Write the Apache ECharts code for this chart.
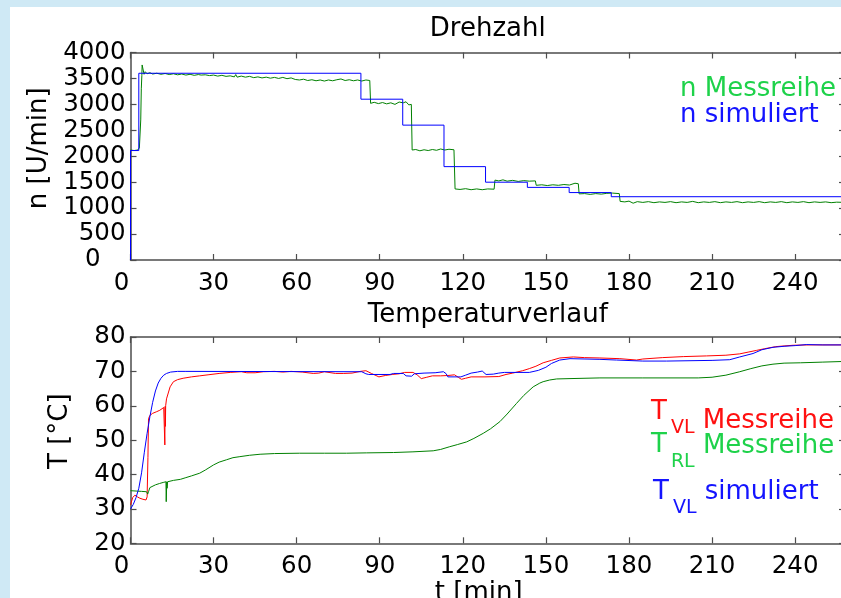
<!DOCTYPE html>
<html><head><meta charset="utf-8">
<script src="https://cdn.jsdelivr.net/npm/echarts@6/dist/echarts.min.js"></script>
<style>
html,body{margin:0;padding:0;width:841px;height:598px;overflow:hidden;background:#cfe9f5;}
#panel{position:absolute;left:10px;top:7px;width:900px;height:700px;background:#ffffff;}
#chart{position:absolute;left:0;top:0;width:860px;height:598px;}
</style></head><body>
<div id="panel"></div><div id="chart"></div>
<script>
// ---- data ----
const tMax = 258;
const xTickStep = 30;
const nTicks = {min: 0, max: 4000, step: 500};
const tempTicks = {min: 20, max: 80, step: 10};

const nSim = [[0,0],[0,2110],[3,2110],[3,3600],[83.2,3600],[83.2,3100],[98.3,3100],[98.3,2600],[113.2,2600],[113.2,1800],[128.2,1800],[128.2,1500],[143.3,1500],[143.3,1400],[158.4,1400],[158.4,1300],[173.6,1300],[173.6,1220],[258,1220]];

const nMess = [[0,2120],[0.7,2150],[1.3,2110],[2,2140],[2.6,2120],[3.2,2160],[3.5,2150],[3.7,2700],[3.9,3300],[4.1,3560],[4.2,3760],[4.7,3760],[4.9,3580],[5.3,3630],[6,3590],[7,3610],[8,3585],[9.5,3600],[11,3580],[12.5,3595],[14,3575],[15.5,3590],[17,3570],[18.5,3585],[20,3565],[21.5,3580],[23,3560],[24.5,3575],[25,3610],[25.5,3565],[27,3570],[28.5,3555],[30,3565],[31.5,3545],[33,3560],[34.5,3540],[36,3550],[37.5,3530],[38,3575],[38.5,3525],[40,3545],[41.5,3525],[43,3540],[44.5,3515],[46,3530],[47.5,3510],[49,3525],[50.5,3505],[52,3520],[53.5,3500],[55,3520],[56.5,3495],[58,3510],[59.5,3480],[61,3470],[62.5,3485],[64,3460],[65.5,3475],[67,3455],[68.5,3470],[70,3450],[71.5,3470],[73,3455],[74.5,3475],[76,3490],[77.5,3460],[79,3475],[80.5,3455],[82,3470],[83.5,3450],[85,3470],[86.4,3460],[86.7,3020],[88,3040],[89.5,3015],[91,3035],[92.5,3010],[94,3030],[95.5,3000],[97,3045],[98.5,3030],[99.5,3050],[100.5,2990],[101.4,3000],[101.7,2120],[103,2130],[104.5,2105],[106,2125],[107.5,2110],[109,2130],[110.5,2115],[112,2140],[113.5,2120],[115,2135],[116.8,2125],[117.2,1370],[119,1360],[121,1375],[123,1355],[125,1370],[127,1355],[129,1370],[131.3,1365],[131.6,1540],[133,1525],[134.5,1545],[136,1520],[138,1535],[140,1515],[142,1530],[144,1520],[146.2,1525],[146.5,1440],[148.5,1450],[150.5,1435],[152.5,1450],[154.5,1440],[156.5,1455],[158.5,1445],[160.5,1480],[161.7,1470],[162,1275],[164,1280],[166,1265],[168,1280],[170,1270],[172,1285],[174,1290],[176.5,1280],[176.8,1130],[178.5,1120],[180,1135],[181.5,1095],[183,1125],[185,1110],[187,1125],[189,1105],[191,1120],[193,1110],[195,1125],[197,1105],[199,1120],[201,1110],[203,1130],[205,1105],[207,1120],[209,1110],[211,1125],[213,1105],[215,1120],[217,1110],[219,1125],[221,1105],[223,1120],[225,1110],[227,1125],[229,1105],[231,1120],[233,1110],[235,1125],[237,1105],[239,1120],[241,1110],[243,1125],[245,1105],[247,1120],[249,1110],[251,1120],[253,1105],[255,1115],[258,1110]];

const tvlMess = [[0,31.2],[0.8,33.3],[1.6,34],[2.5,33.5],[3.4,33.1],[4.5,32.8],[5.6,32.6],[6.0,33.5],[6.3,45],[6.5,56.2],[7,57.2],[8,57.8],[9.5,58.3],[10.6,58.7],[12,59.5],[12.3,60],[12.4,48.6],[12.5,59.8],[12.6,54],[12.7,60],[13,62],[14.3,65.5],[15.5,67],[17,67.6],[19,68],[22,68.4],[25,68.7],[28,69],[32,69.4],[36,69.7],[40,69.9],[42,69.6],[45,69.6],[48,69.9],[52,70],[55,69.8],[58,70],[62,69.8],[66,69.4],[68,69.5],[70,69.9],[74,69.4],[77,69.4],[80,69.5],[83,70],[85,70.2],[87,69.4],[89.7,68.4],[92,68.8],[94.5,69.1],[97,69.3],[99,69.7],[102,69.7],[103.5,69],[105,67.9],[107,68.3],[109,68.7],[112,68.7],[114.6,68.8],[117,69],[118.5,68.2],[119.5,67.7],[121,68],[123,68.4],[128,68.4],[133,68.5],[135.6,69.1],[138,69.5],[141.6,70.2],[144,70.8],[146.4,71.5],[149,72.5],[152,73.2],[155,73.9],[159.9,74.2],[164,74],[169.5,73.9],[176.7,73.7],[182.7,73.3],[185,73.6],[192,74],[199.6,74.3],[208,74.5],[215,74.7],[220,75.1],[223,75.6],[226,76.1],[229,76.6],[233,77.2],[236,77.4],[239.3,77.6],[245,77.7],[258,77.7]];

const trlMess = [[0,35.3],[2,35.2],[4,35.1],[5.8,35],[6.2,34.3],[6.5,35],[7,36.2],[7.6,36.5],[9,37],[10.5,37.4],[11.8,37.7],[12.8,37.9],[12.9,32.1],[13.1,37.9],[13.2,36],[13.4,37.9],[14,38],[15.5,38.3],[18,38.6],[20,39.1],[22,39.6],[25,40.4],[27,41.3],[30,42.8],[32,43.6],[34.7,44.3],[37,44.9],[39.5,45.2],[43,45.6],[46.8,45.9],[52,46.1],[61,46.2],[70,46.2],[78,46.2],[85.3,46.3],[95,46.4],[102,46.6],[109.3,46.9],[112,47.3],[115.3,48.1],[118,48.7],[121.4,49.5],[124,50.5],[127.4,52],[130,53.3],[133.4,55.4],[136,57.6],[139.4,60.7],[142,63],[145.4,65.5],[147.8,66.6],[149,67],[151.4,67.5],[153.9,67.8],[158.7,67.9],[169.5,68.1],[185,68.1],[205,68.1],[210,68.3],[215,68.9],[220,69.9],[224,70.8],[228,71.6],[232,72.1],[236,72.4],[242,72.5],[250,72.7],[258,72.9]];

const tvlSim = [[0,30],[1,31.3],[2,33.3],[3,36],[4,40.5],[5,46.5],[6,52],[7,56.8],[8,61],[9,64.3],[10,66.6],[11,68],[12,68.9],[13,69.4],[14.5,69.8],[17,70],[20,70],[83.5,69.9],[85,69.3],[86,69.1],[93.7,69.1],[95,69.4],[98.5,69.4],[99.5,68.7],[101.5,68.6],[102.5,69.3],[106,69.5],[110,69.6],[113,69.9],[114,69.3],[114.6,68.4],[119.3,68.4],[121,68.9],[123,69.5],[125.3,69.8],[127,70.1],[128.4,69.1],[131,69.2],[133,69.5],[135,69.7],[144,69.7],[147.3,70.3],[150,71.2],[152,72.3],[155,73.3],[158.7,73.7],[169.5,73.5],[175.5,73.3],[185,73],[193.6,73],[210,73.2],[216.4,73.4],[220,74.2],[224.8,75.2],[228,76.3],[232,77],[236,77.3],[240,77.5],[244,77.8],[250,77.7],[258,77.7]];

// ---- styling ----
const FONT = 'DejaVu Sans';
const AX = '#4d4d4d';
const GREEN_TXT = '#1ed24a', BLUE_TXT = '#1414ff', RED_TXT = '#ff1010';
const GREEN = '#008000', BLUE = '#0000ff', RED = '#ff0000';

const chart = echarts.init(document.getElementById('chart'), null, {renderer: 'canvas'});

function xAx(grid, pos, opts) {
  return Object.assign({
    type: 'value', gridIndex: grid, position: pos, min: 0, max: tMax, interval: xTickStep,
    axisLine: {show: true, onZero: false, lineStyle: {color: AX, width: 1.5}},
    axisTick: {show: true, inside: true, length: 6, lineStyle: {color: AX, width: 1.2}},
    splitLine: {show: false},
    axisLabel: pos === 'bottom' ? {
      show: true, fontFamily: FONT, fontSize: 24.5, color: '#000', margin: 11,
      showMaxLabel: false,
      formatter: v => (v % xTickStep === 0 ? (v === 0 ? '{z|0}' : String(v)) : ''),
      rich: {z: {fontFamily: FONT, fontSize: 24.5, color: '#000', padding: [0, 18, 0, 0]}}
    } : {show: false},
    nameTextStyle: {fontFamily: FONT, fontSize: 26, color: '#000'}
  }, opts || {});
}
function yAx(grid, pos, tk, opts, zeroShift) {
  return Object.assign({
    type: 'value', gridIndex: grid, position: pos, min: tk.min, max: tk.max, interval: tk.step,
    axisLine: {show: true, onZero: false, lineStyle: {color: AX, width: 1.5}},
    axisTick: {show: true, inside: true, length: 6, lineStyle: {color: AX, width: 1.2}},
    splitLine: {show: false},
    axisLabel: pos === 'left' ? {
      show: true, fontFamily: FONT, fontSize: 24.5, color: '#000', margin: 5,
      formatter: v => (zeroShift && v === 0 ? '{z|0}' : String(v)),
      rich: {z: {fontFamily: FONT, fontSize: 24.5, color: '#000', padding: [0, 25, 0, 0]}}
    } : {show: false},
    nameTextStyle: {fontFamily: FONT, fontSize: 26, color: '#000'}
  }, opts || {});
}

function subLegend(name, top, left, col, subPad, mPad) {
  return {
    data: [{name: name}], orient: 'vertical', left: left, top: top, padding: 0,
    icon: 'none', itemWidth: 0, itemHeight: 10, selectedMode: false,
    formatter: n => {
      const parts = n.split(' ');
      const sub = parts[0].split('_')[1];
      return '{T|T}{s|' + sub + '}{m| ' + parts[1] + '}';
    },
    textStyle: {
      rich: {
        T: {fontFamily: FONT, fontSize: 26, lineHeight: 26, color: col, verticalAlign: 'top'},
        s: {fontFamily: FONT, fontSize: 19, lineHeight: 19, color: col, verticalAlign: 'top', padding: [subPad, 0, 0, 4]},
        m: {fontFamily: FONT, fontSize: 26, lineHeight: 26, color: col, verticalAlign: 'top', padding: [mPad, 0, 0, 0]}
      }
    }
  };
}

const option = {
  animation: false,
  backgroundColor: 'transparent',
  grid: [
    {left: 130.5, top: 52.5, width: 714.5, height: 207.5, outerBoundsMode: 'none', containLabel: false},
    {left: 130.5, top: 337, width: 714.5, height: 206.3, outerBoundsMode: 'none', containLabel: false}
  ],
  xAxis: [
    xAx(0, 'bottom'),
    xAx(0, 'top', {name: 'Drehzahl', nameLocation: 'middle', nameGap: 10}),
    xAx(1, 'bottom', {name: 't [min]', nameLocation: 'middle', nameGap: 35,
      nameTextStyle: {fontFamily: FONT, fontSize: 26, color: '#000', padding: [0, 18, 0, 0]}}),
    xAx(1, 'top', {name: 'Temperaturverlauf', nameLocation: 'middle', nameGap: 9})
  ],
  yAxis: [
    yAx(0, 'left', nTicks, {name: 'n [U/min]', nameLocation: 'middle', nameGap: 78, nameRotate: 90,
      nameTextStyle: {fontFamily: FONT, fontSize: 26, color: '#000', padding: [0, 0, 0, 16]}}, true),
    yAx(0, 'right', nTicks),
    yAx(1, 'left', tempTicks, {name: 'T [°C]', nameLocation: 'middle', nameGap: 57, nameRotate: 90,
      nameTextStyle: {fontFamily: FONT, fontSize: 26, color: '#000', padding: [0, 0, 0, 18]}}, false),
    yAx(1, 'right', tempTicks)
  ],
  legend: [
    {
      data: [{name: 'n Messreihe', textStyle: {color: GREEN_TXT}}, {name: 'n simuliert', textStyle: {color: BLUE_TXT}}],
      orient: 'vertical', left: 675, top: 76, padding: 0, itemGap: 0,
      icon: 'none', itemWidth: 0, itemHeight: 10, selectedMode: false,
      textStyle: {fontFamily: FONT, fontSize: 26, lineHeight: 23.5}
    },
    subLegend('T_VL Messreihe', 399, 646, RED_TXT, 20, 9),
    subLegend('T_RL Messreihe', 432, 646, GREEN_TXT, 21, 1),
    subLegend('T_VL simuliert', 479, 648, BLUE_TXT, 20, 0)
  ],
  series: [
    {name: 'n Messreihe', type: 'line', xAxisIndex: 0, yAxisIndex: 0, data: nMess, showSymbol: false,
      lineStyle: {color: GREEN, width: 1}, itemStyle: {color: GREEN}},
    {name: 'n simuliert', type: 'line', xAxisIndex: 0, yAxisIndex: 0, data: nSim, showSymbol: false,
      lineStyle: {color: BLUE, width: 1}, itemStyle: {color: BLUE}},
    {name: 'T_VL Messreihe', type: 'line', xAxisIndex: 2, yAxisIndex: 2, data: tvlMess, showSymbol: false,
      lineStyle: {color: RED, width: 1}, itemStyle: {color: RED}},
    {name: 'T_RL Messreihe', type: 'line', xAxisIndex: 2, yAxisIndex: 2, data: trlMess, showSymbol: false,
      lineStyle: {color: GREEN, width: 1}, itemStyle: {color: GREEN}},
    {name: 'T_VL simuliert', type: 'line', xAxisIndex: 2, yAxisIndex: 2, data: tvlSim, showSymbol: false,
      lineStyle: {color: BLUE, width: 1}, itemStyle: {color: BLUE}}
  ]
};
chart.setOption(option);
</script></body></html>
